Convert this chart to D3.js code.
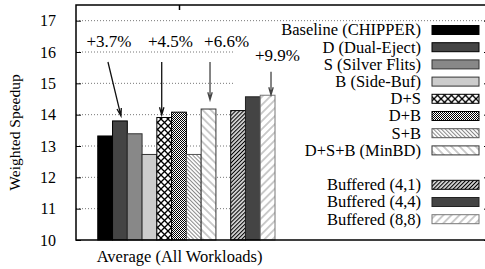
<!DOCTYPE html>
<html lang="en">
<head>
<meta charset="utf-8">
<title>Weighted Speedup</title>
<style>
  html, body { margin: 0; padding: 0; background: #fff; }
  svg { display: block; }
</style>
</head>
<body>
<div id="chart"></div>
<script src="https://cdnjs.cloudflare.com/ajax/libs/d3/7.8.5/d3.min.js"></script>
<script>
// data
const category = "Average (All Workloads)";
const seriesNames = ["Baseline (CHIPPER)", "D (Dual-Eject)", "S (Silver Flits)", "B (Side-Buf)",
  "D+S", "D+B", "S+B", "D+S+B (MinBD)",
  "Buffered (4,1)", "Buffered (4,4)", "Buffered (8,8)"];
const seriesValues = [13.32, 13.80, 13.39, 12.73, 13.91, 14.08, 12.73, 14.18, 14.13, 14.57, 14.62];
// slot in the cluster (slots 0 and 9 are empty)
const seriesSlots = [1, 2, 3, 4, 5, 6, 7, 8, 10, 11, 12];
const yTicks = [10, 11, 12, 13, 14, 15, 16, 17];

const annoLabels = ["+3.7%", "+4.5%", "+6.6%", "+9.9%"];
const annoTextX = [1.76, 5.92, 9.72, 13.17];   // in slot units
const annoTextY = [16.16, 16.16, 16.16, 15.71];
const annoFromX = [1.69, 5.33, 8.6, 12.73];
const annoFromY = [15.68, 15.68, 15.68, 15.37];
const annoToX = [2.57, 5.33, 8.6, 12.73];
const annoToY = [13.96, 13.99, 14.47, 14.63];

const W = 485, H = 269;
const mLeft = 76, mRight = 489, mTop = 5, mBottom = 240;
const FONT = "Liberation Serif, Times New Roman, serif";

const svg = d3.select("#chart").append("svg")
  .attr("width", W).attr("height", H)
  .attr("font-family", FONT);

const defs = svg.append("defs");

function hatch(id, size, angle, color, sw) {
  const p = defs.append("pattern").attr("id", id)
    .attr("patternUnits", "userSpaceOnUse")
    .attr("width", size).attr("height", size)
    .attr("patternTransform", "rotate(" + angle + ")");
  p.append("rect").attr("width", size).attr("height", size).attr("fill", "#fff");
  p.append("line").attr("x1", size / 2).attr("x2", size / 2).attr("y1", 0).attr("y2", size)
    .attr("stroke", color).attr("stroke-width", sw);
}
hatch("sb", 2.8, -45, "#888", 1);
hatch("dsb", 5.7, -45, "#999", 1);
hatch("b41", 2.8, 45, "#000", 1.3);
hatch("b88", 5.7, 45, "#999", 1);

// crosshatch
const cross = defs.append("pattern").attr("id", "ds")
  .attr("patternUnits", "userSpaceOnUse").attr("width", 7).attr("height", 7);
cross.append("rect").attr("width", 7).attr("height", 7).attr("fill", "#fff");
cross.append("path").attr("d", "M0,0L7,7M0,7L7,0")
  .attr("stroke", "#000").attr("stroke-width", 1.3);

// fine checker
const chk = defs.append("pattern").attr("id", "db")
  .attr("patternUnits", "userSpaceOnUse").attr("width", 2).attr("height", 2);
chk.append("rect").attr("width", 2).attr("height", 2).attr("fill", "#fff");
chk.append("rect").attr("width", 1).attr("height", 1).attr("fill", "#000");
chk.append("rect").attr("x", 1).attr("y", 1).attr("width", 1).attr("height", 1).attr("fill", "#000");

const fills = ["#000", "#444", "#888", "#ccc", "url(#ds)", "url(#db)", "url(#sb)", "url(#dsb)",
  "url(#b41)", "#444", "url(#b88)"];
const strokes = ["#000", "#000", "#333", "#333", "#000", "#000", "#555", "#333", "#000", "#222", "#777"];

const y = d3.scaleLinear().domain([10, 17.5]).range([mBottom, mTop]);
const xs = d3.scaleLinear().domain([0, 13]).range([83, 275]);
const xCat = d3.scalePoint().domain([category]).range([mLeft, 282]).padding(0.5);
const slotW = xs(1) - xs(0);

// grid
svg.append("g").selectAll("line")
  .data(yTicks.filter(t => t > 10))
  .join("line")
  .attr("x1", mLeft).attr("x2", mRight)
  .attr("y1", d => y(d)).attr("y2", d => y(d))
  .attr("stroke", "#777").attr("stroke-width", 1)
  .attr("stroke-dasharray", "1,2");

// opaque key box
svg.append("rect").attr("x", 235).attr("y", 23).attr("width", mRight - 235).attr("height", 213)
  .attr("fill", "#fff");

// bars
svg.append("g").selectAll("rect")
  .data(seriesValues)
  .join("rect")
  .attr("x", (d, i) => xs(seriesSlots[i]))
  .attr("y", d => y(d))
  .attr("width", slotW)
  .attr("height", d => y(10) - y(d))
  .attr("fill", (d, i) => fills[i])
  .attr("stroke", (d, i) => strokes[i])
  .attr("stroke-width", 1);

// frame
svg.append("path")
  .attr("d", `M${mRight},${mTop}H${mLeft}V${mBottom}H${mRight}`)
  .attr("fill", "none").attr("stroke", "#000").attr("stroke-width", 1.5);

// y axis
const yAxis = d3.axisLeft(y).tickValues(yTicks).tickSize(-5).tickPadding(20).tickFormat(d3.format("d"));
const ya = svg.append("g").attr("transform", `translate(${mLeft},0)`).call(yAxis)
  .attr("font-family", FONT).attr("font-size", 16);
ya.select(".domain").remove();
ya.selectAll("text").attr("fill", "#000");
ya.selectAll("line").attr("stroke", "#000");

// mirror ticks on the right
const yr = svg.append("g").attr("transform", `translate(${mRight},0)`)
  .call(d3.axisRight(y).tickValues(yTicks).tickSize(-5).tickFormat(""));
yr.select(".domain").remove();

// x axis (category at bottom, mirror tick at top)
const xa = svg.append("g").attr("transform", `translate(0,${mBottom})`)
  .call(d3.axisBottom(xCat).tickSize(0).tickPadding(10))
  .attr("font-family", FONT).attr("font-size", 16.5);
xa.select(".domain").remove();
xa.selectAll("text").attr("fill", "#000");
const xt = svg.append("g").attr("transform", `translate(0,${mTop})`)
  .call(d3.axisTop(xCat).tickSize(-5).tickFormat(""));
xt.select(".domain").remove();
xt.selectAll("line").attr("stroke", "#000").attr("stroke-width", 1.5);

// y title
svg.append("text")
  .attr("transform", `translate(20,${(mTop + mBottom) / 2 + 10}) rotate(-90)`)
  .attr("text-anchor", "middle")
  .attr("font-size", 15.5)
  .text("Weighted Speedup");

// annotations
const anno = svg.append("g");
annoLabels.forEach((t, i) => {
  anno.append("text")
    .attr("x", xs(annoTextX[i])).attr("y", y(annoTextY[i]))
    .attr("text-anchor", "middle").attr("font-size", 17)
    .attr("fill", "#000")
    .text(t);
  const x1 = xs(annoFromX[i]), y1 = y(annoFromY[i]);
  const x2 = xs(annoToX[i]), y2 = y(annoToY[i]);
  const col = i < 2 ? "#111" : "#444";
  const a = Math.atan2(y2 - y1, x2 - x1);
  const L = 8, spread = 0.28;
  anno.append("path")
    .attr("d", `M${x1},${y1}L${x2},${y2}` +
      `M${x2 - L * Math.cos(a - spread)},${y2 - L * Math.sin(a - spread)}L${x2},${y2}` +
      `L${x2 - L * Math.cos(a + spread)},${y2 - L * Math.sin(a + spread)}`)
    .attr("fill", "none").attr("stroke", col).attr("stroke-width", 1.3);
});

// legend
const rowSlot = [0, 1, 2, 3, 4, 5, 6, 7, 9, 10, 11];
const ly = d3.scaleLinear().domain([0, 11]).range([30, 219.2]);
const leg = svg.append("g").selectAll("g")
  .data(seriesNames)
  .join("g")
  .attr("transform", (d, i) => `translate(0,${ly(rowSlot[i])})`);
leg.append("text")
  .attr("x", 421).attr("dy", "0.33em")
  .attr("text-anchor", "end").attr("font-size", 16.5)
  .text(d => d);
leg.append("rect")
  .attr("x", 432).attr("y", -4.5).attr("width", 47).attr("height", 9)
  .attr("fill", (d, i) => fills[i])
  .attr("stroke", (d, i) => strokes[i]).attr("stroke-width", 1);
</script>
</body>
</html>
